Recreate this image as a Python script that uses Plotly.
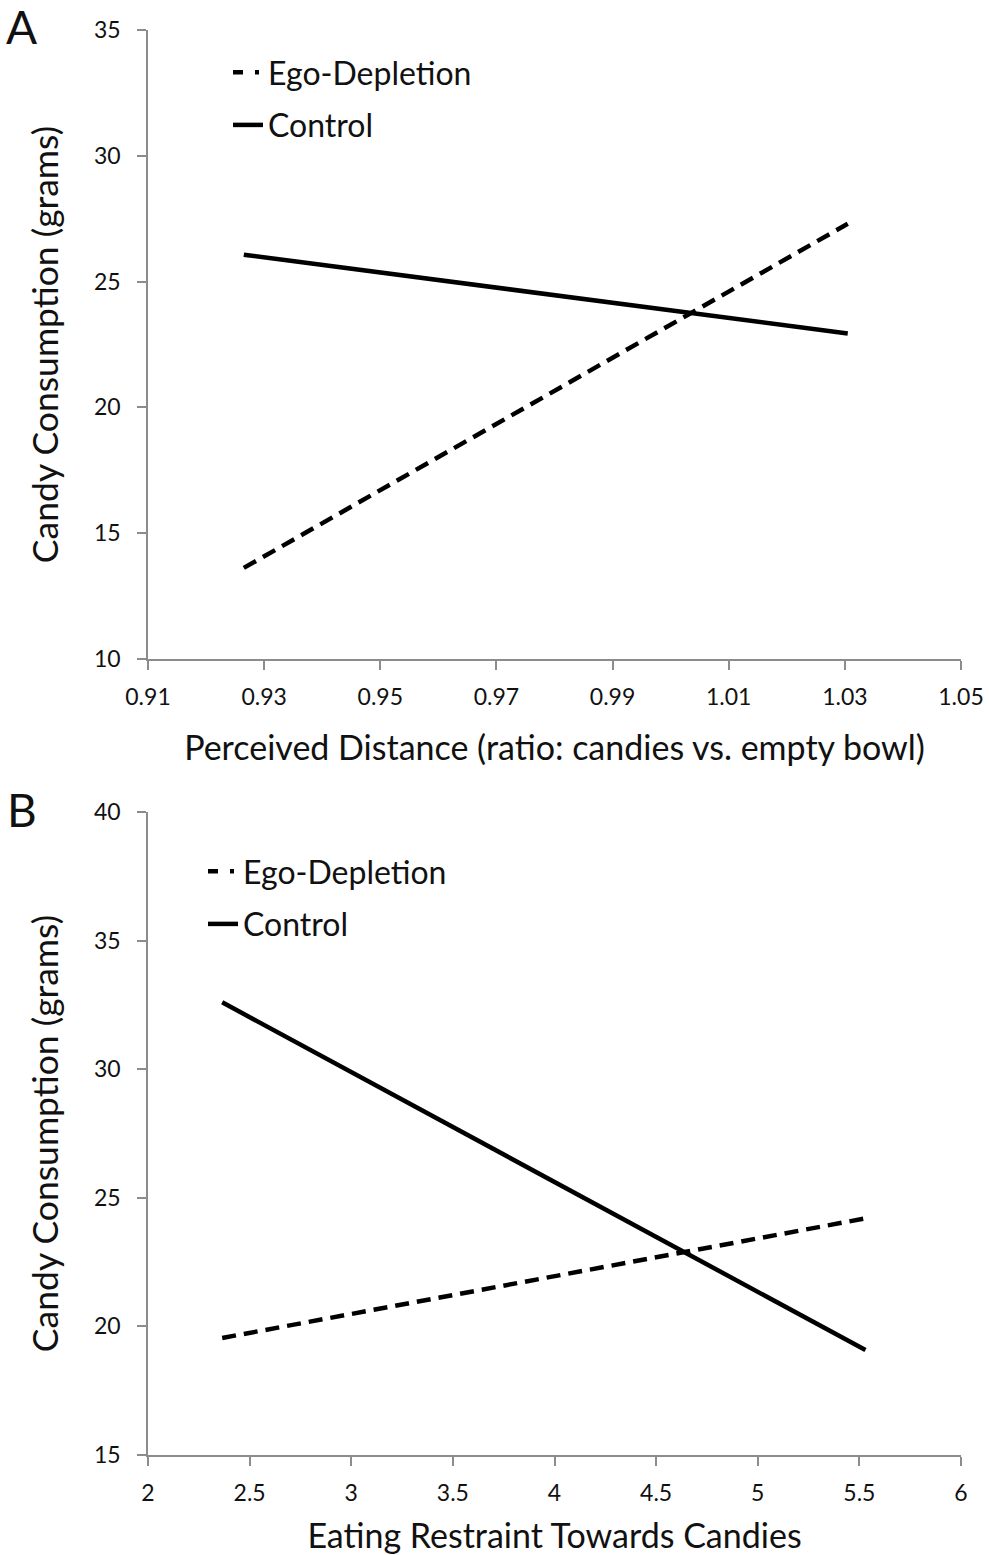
import plotly.graph_objects as go

# Panel A data
a_x = [0.9265, 1.0305]
a_ego = [13.62, 27.3]
a_ctrl = [26.07, 22.94]
a_xticks = [0.91, 0.93, 0.95, 0.97, 0.99, 1.01, 1.03, 1.05]
a_yticks = [10, 15, 20, 25, 30, 35]

# Panel B data
b_x = [2.365, 5.53]
b_ego = [19.55, 24.2]
b_ctrl = [32.6, 19.08]
b_xticks = [2, 2.5, 3, 3.5, 4, 4.5, 5, 5.5, 6]
b_yticks = [15, 20, 25, 30, 35, 40]

series_names = ["Ego-Depletion", "Control"]

FONT = "Lato"
W, H = 989, 1555
AX = "#8c8c8c"
TXT = "#111"
LW = 4.5
DASH = "14px,8px"
LEGEND_DASH = "10px,12px,4px,30px"

fig = go.Figure()
panels = [
    ("x", "y", "legend", a_x, a_ego, a_ctrl),
    ("x2", "y2", "legend2", b_x, b_ego, b_ctrl),
]
for xa, yaa, lg, xs, ego, ctrl in panels:
    fig.add_trace(go.Scatter(x=xs, y=ego, mode="lines", name=series_names[0],
                             line=dict(color="black", width=LW, dash=DASH),
                             xaxis=xa, yaxis=yaa, showlegend=False))
    fig.add_trace(go.Scatter(x=xs, y=ctrl, mode="lines", name=series_names[1],
                             line=dict(color="black", width=LW),
                             xaxis=xa, yaxis=yaa, showlegend=False))
    # legend entries (sample styling like the original)
    fig.add_trace(go.Scatter(x=[None], y=[None], mode="lines", name=series_names[0],
                             line=dict(color="black", width=LW, dash=LEGEND_DASH),
                             xaxis=xa, yaxis=yaa, legend=lg, legendgroup=lg + "1"))
    fig.add_trace(go.Scatter(x=[None], y=[None], mode="lines", name=series_names[1],
                             line=dict(color="black", width=LW),
                             xaxis=xa, yaxis=yaa, legend=lg, legendgroup=lg + "2"))

xd = [148 / W, 961 / W]
ya = [1 - 659 / H, 1 - 30 / H]
yb = [1 - 1455 / H, 1 - 812 / H]

common_ax = dict(showgrid=False, zeroline=False, showline=True, linecolor=AX, linewidth=1.5,
                 ticks="outside", tickcolor=AX, ticklen=9, tickwidth=1.5, automargin=False,
                 tickfont=dict(family=FONT, size=23, color=TXT))

xtitle_font = dict(family=FONT, size=34, color=TXT)
ytitle_font = dict(family=FONT, size=35.5, color=TXT)

fig.update_layout(
    width=W, height=H, margin=dict(l=0, r=0, t=0, b=0),
    paper_bgcolor="white", plot_bgcolor="white",
    font=dict(family=FONT, color=TXT),
    xaxis=dict(domain=xd, anchor="y", range=[0.91, 1.05], tickvals=a_xticks,
               ticktext=[f"{v:.2f}" for v in a_xticks], ticklabelstandoff=8,
               title=dict(text="Perceived Distance (ratio: candies vs. empty bowl)",
                          font=xtitle_font, standoff=27), **common_ax),
    yaxis=dict(domain=ya, anchor="x", range=[10, 35], tickvals=a_yticks, ticklabelstandoff=12,
               title=dict(text="Candy Consumption (grams)", font=ytitle_font,
                          standoff=25), **common_ax),
    xaxis2=dict(domain=xd, anchor="y2", range=[2, 6], tickvals=b_xticks,
                ticktext=[f"{v:g}" for v in b_xticks], ticklabelstandoff=8,
                title=dict(text="Eating Restraint Towards Candies",
                           font=xtitle_font, standoff=20), **common_ax),
    yaxis2=dict(domain=yb, anchor="x2", range=[15, 40], tickvals=b_yticks, ticklabelstandoff=12,
                title=dict(text="Candy Consumption (grams)", font=ytitle_font,
                           standoff=25), **common_ax),
    legend=dict(x=228 / W, y=1 - 45 / H, xanchor="left", yanchor="top",
                font=dict(family=FONT, size=32, color=TXT), itemwidth=30,
                tracegroupgap=8, bgcolor="rgba(0,0,0,0)"),
    legend2=dict(x=203 / W, y=1 - 844 / H, xanchor="left", yanchor="top",
                 font=dict(family=FONT, size=32, color=TXT), itemwidth=30,
                 tracegroupgap=8, bgcolor="rgba(0,0,0,0)"),
    annotations=[
        dict(text="A", x=4 / W, y=1 + 3 / H, xref="paper", yref="paper", xanchor="left",
             yanchor="top", showarrow=False, font=dict(family=FONT, size=46, color=TXT)),
        dict(text="B", x=5 / W, y=1 - 780 / H, xref="paper", yref="paper", xanchor="left",
             yanchor="top", showarrow=False, font=dict(family=FONT, size=46, color=TXT)),
    ],
)

fig.write_html("out.html", config={"displayModeBar": False},
               post_script="document.body.style.margin='0';")
